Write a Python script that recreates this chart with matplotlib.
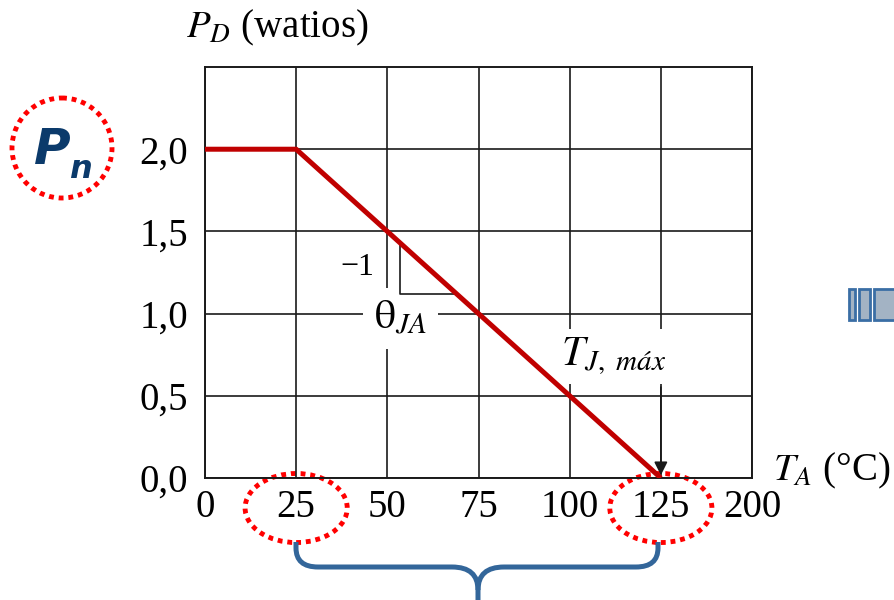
import matplotlib.pyplot as plt
import matplotlib.transforms as mtransforms
from matplotlib.patches import Ellipse, Circle, Rectangle, PathPatch
from matplotlib.path import Path

plt.rcParams['font.family'] = ['Liberation Serif', 'DejaVu Serif']
plt.rcParams['mathtext.fontset'] = 'stix'

# derating curve
temp = [0, 25, 125]
power = [2.0, 2.0, 0.0]

x_ticks = [0, 25, 50, 75, 100, 125, 150]
x_labels = ['0', '25', '50', '75', '100', '125', '200']
y_ticks = [0.0, 0.5, 1.0, 1.5, 2.0]
y_labels = ['0,0', '0,5', '1,0', '1,5', '2,0']

# slope triangle corner
tri_x = 53.6
tri_y = 1.12
t_max = 125

fig = plt.figure(figsize=(8.94, 6), dpi=100)
ax = fig.add_axes([0.2293, 0.2033, 0.6119, 0.685])

ax.set_xlim(0, 150)
ax.set_ylim(0, 2.5)
ax.set_xticks(x_ticks)
ax.set_xticklabels(x_labels)
ax.set_yticks(y_ticks)
ax.set_yticklabels(y_labels)
ax.tick_params(length=0, labelsize=28, pad=12)
ax.tick_params(axis='x', pad=8)
ax.grid(True, color='#1a1a1a', lw=1.2)
for s in ax.spines.values():
    s.set_linewidth(1.4)
    s.set_color('#1a1a1a')

ax.plot(temp, power, color='#C00000', lw=3.6, zorder=6, solid_capstyle='butt')

# slope triangle under the red line
slope = power[1] / (t_max - temp[1])
top_y = (t_max - tri_x) * slope
right_x = t_max - tri_y / slope
ax.plot([tri_x, tri_x, right_x], [top_y, tri_y, tri_y], color='#1a1a1a', lw=1.2, zorder=5)

ax.text(41.7, 1.28, '−1', fontsize=23, ha='center', va='center', zorder=4)
ax.text(53.5, 0.97, r'$\mathrm{\theta}_{JA}$', fontsize=30, ha='center', va='center', zorder=4,
        bbox=dict(facecolor='white', edgecolor='none', pad=8))
ax.text(112, 0.74, r'$T_{J,\ máx}$', fontsize=30, ha='center', va='center', zorder=4,
        bbox=dict(facecolor='white', edgecolor='none', pad=5))
ax.annotate('', xy=(t_max, 0.0), xytext=(t_max, 0.57),
            arrowprops=dict(arrowstyle='-|>', color='#1a1a1a', lw=1.2, mutation_scale=20),
            zorder=5)

fig.text(0.31, 0.953, r'$P_D$ (watios)', fontsize=28, ha='center', va='center')
fig.text(0.93, 0.215, r'$T_A$ (°C)', fontsize=28, ha='center', va='center')

# dotted marks around the 25 and 125 tick labels
blend = mtransforms.blended_transform_factory(ax.transData, ax.transAxes)
for xc in [temp[1], t_max]:
    ax.add_patch(Ellipse((xc, -0.073), 28, 0.168, transform=blend, fill=False,
                         edgecolor='#FF0000', lw=3.5, linestyle=(0, (1, 1)), clip_on=False))

# decorations in pixel coordinates
deco = fig.add_axes([0, 0, 1, 1])
deco.set_xlim(0, 894)
deco.set_ylim(600, 0)
deco.axis('off')

deco.add_patch(Circle((62, 148), 50, fill=False, edgecolor='#FF0000', lw=3.5,
                      linestyle=(0, (1, 1))))
deco.text(52, 150, 'P', fontsize=36, family='DejaVu Sans', weight='bold', style='italic',
          color='#0B3A6B', ha='center', va='center')
deco.text(80, 170, 'n', fontsize=23, family='DejaVu Sans', weight='bold', style='italic',
          color='#0B3A6B', ha='center', va='center')

brace_col = '#33669A'
left = Path([(296, 542), (296, 548), (296, 567), (318, 567), (452, 567), (478, 567), (478, 590), (478, 600)],
            [Path.MOVETO, Path.LINETO, Path.CURVE3, Path.CURVE3, Path.LINETO, Path.CURVE3, Path.CURVE3, Path.LINETO])
right = Path([(658, 542), (658, 548), (658, 567), (636, 567), (504, 567), (478, 567), (478, 590)],
             [Path.MOVETO, Path.LINETO, Path.CURVE3, Path.CURVE3, Path.LINETO, Path.CURVE3, Path.CURVE3])
for p in [left, right]:
    deco.add_patch(PathPatch(p, fill=False, edgecolor=brace_col, lw=3.6, capstyle='butt'))

for x0, w in [(849, 6), (859, 11), (874, 30)]:
    deco.add_patch(Rectangle((x0, 289), w, 31, facecolor='#A3B3C4', edgecolor='#3A6EA5', lw=2))

fig.savefig('out.png', dpi=100)
